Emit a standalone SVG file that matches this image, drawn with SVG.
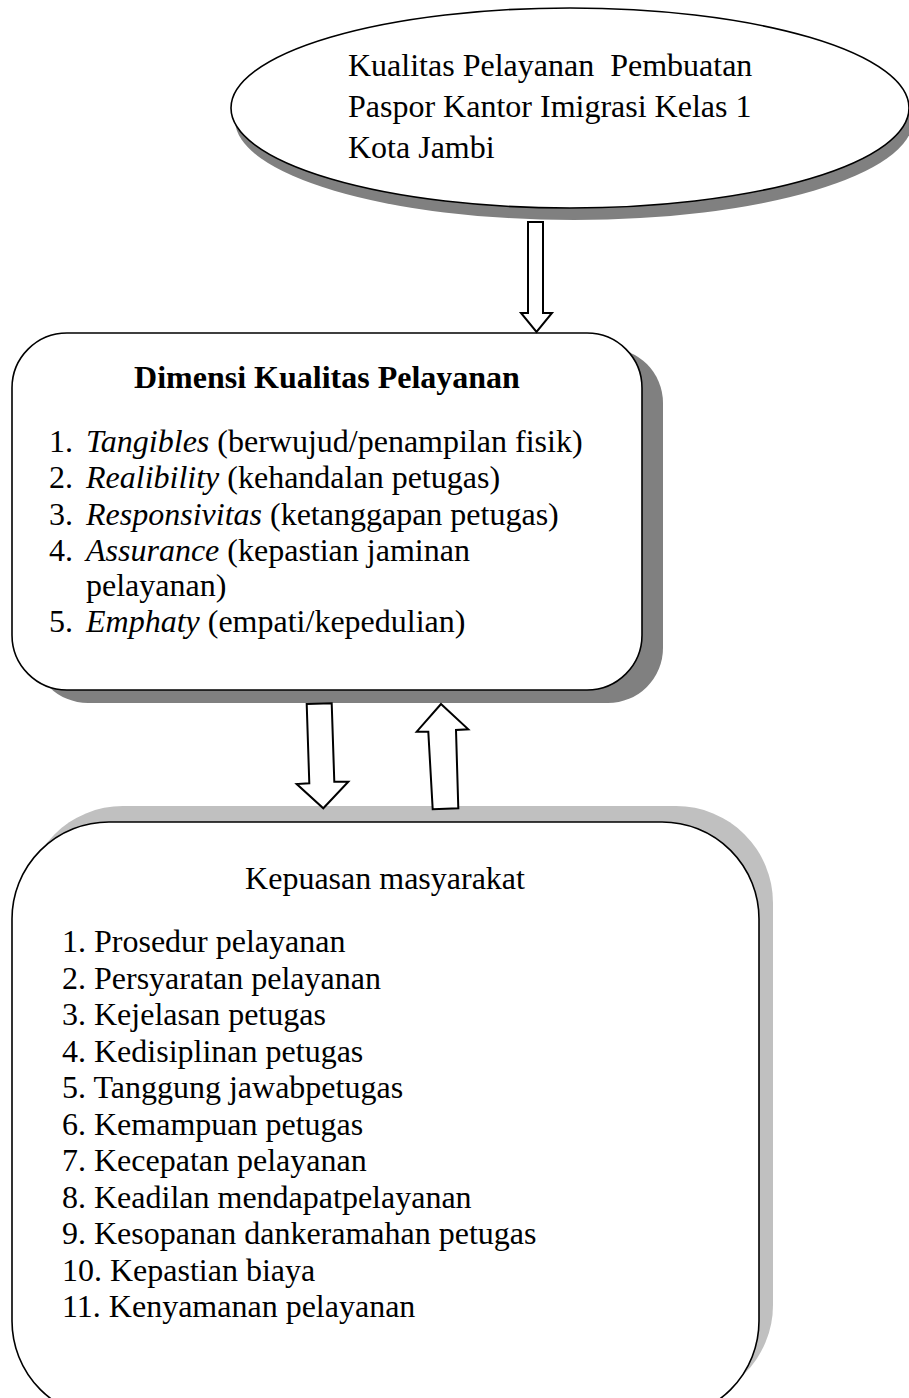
<svg xmlns="http://www.w3.org/2000/svg" width="909" height="1398" viewBox="0 0 909 1398">
<style>
text{font-family:"Liberation Serif","Times New Roman",serif;font-size:32px;fill:#000;white-space:pre}
.it{font-style:italic}
.b{font-weight:bold}
.box{fill:#fff;stroke:#000;stroke-width:1.6}
.sh-dark{fill:#808080}
.sh-light{fill:#c0c0c0}
.arrow{fill:#fff;stroke:#000;stroke-width:2;stroke-linejoin:miter}
</style>
<rect width="909" height="1398" fill="#fff"/>
<g id="node-kualitas">
<ellipse class="sh-dark" cx="574" cy="120" rx="339" ry="100"/>
<ellipse class="box" cx="570" cy="108" rx="339" ry="100"/>
<text x="348" y="76" xml:space="preserve">Kualitas Pelayanan  Pembuatan</text>
<text x="348" y="117">Paspor Kantor Imigrasi Kelas 1</text>
<text x="348" y="158">Kota Jambi</text>
</g>
<g id="node-dimensi">
<rect class="sh-dark" x="33" y="348" width="630" height="355" rx="55" ry="55"/>
<rect class="box" x="12" y="333" width="630" height="357" rx="55" ry="55"/>
<text class="b" x="327" y="388" text-anchor="middle">Dimensi Kualitas Pelayanan</text>
<text x="49" y="452">1.</text><text x="86" y="452"><tspan class="it">Tangibles</tspan> (berwujud/penampilan fisik)</text>
<text x="49" y="488">2.</text><text x="86" y="488"><tspan class="it">Realibility</tspan> (kehandalan petugas)</text>
<text x="49" y="525">3.</text><text x="86" y="525"><tspan class="it">Responsivitas</tspan> (ketanggapan petugas)</text>
<text x="49" y="561">4.</text><text x="86" y="561"><tspan class="it">Assurance</tspan> (kepastian jaminan</text>
<text x="86" y="596">pelayanan)</text>
<text x="49" y="632">5.</text><text x="86" y="632"><tspan class="it">Emphaty</tspan> (empati/kepedulian)</text>
</g>
<g id="node-kepuasan">
<rect class="sh-light" x="26" y="806" width="747" height="596" rx="97" ry="97"/>
<rect class="box" x="12" y="822" width="747" height="596" rx="97" ry="97"/>
<text x="385" y="889" text-anchor="middle">Kepuasan masyarakat</text>
<text x="62" y="952">1. Prosedur pelayanan</text>
<text x="62" y="988.5">2. Persyaratan pelayanan</text>
<text x="62" y="1025">3. Kejelasan petugas</text>
<text x="62" y="1061.5">4. Kedisiplinan petugas</text>
<text x="62" y="1098">5. Tanggung jawabpetugas</text>
<text x="62" y="1134.5">6. Kemampuan petugas</text>
<text x="62" y="1171">7. Kecepatan pelayanan</text>
<text x="62" y="1207.5">8. Keadilan mendapatpelayanan</text>
<text x="62" y="1244">9. Kesopanan dankeramahan petugas</text>
<text x="62" y="1280.5">10. Kepastian biaya</text>
<text x="62" y="1317">11. Kenyamanan pelayanan</text>
</g>
<g id="connectors">
<polygon class="arrow" points="528,222 543,222 543,313 552,313 536.5,332 521,313 528,313"/>
<polygon class="arrow" points="306.7,704 331.7,703.3 334.3,781.7 348.3,781.7 323.3,808.3 296.7,784 309.3,783.3"/>
<polygon class="arrow" points="441,704 468.3,729.3 456,730 458.3,808.3 432.7,809.3 428.3,731.7 416.7,731.7"/>
</g>
</svg>
